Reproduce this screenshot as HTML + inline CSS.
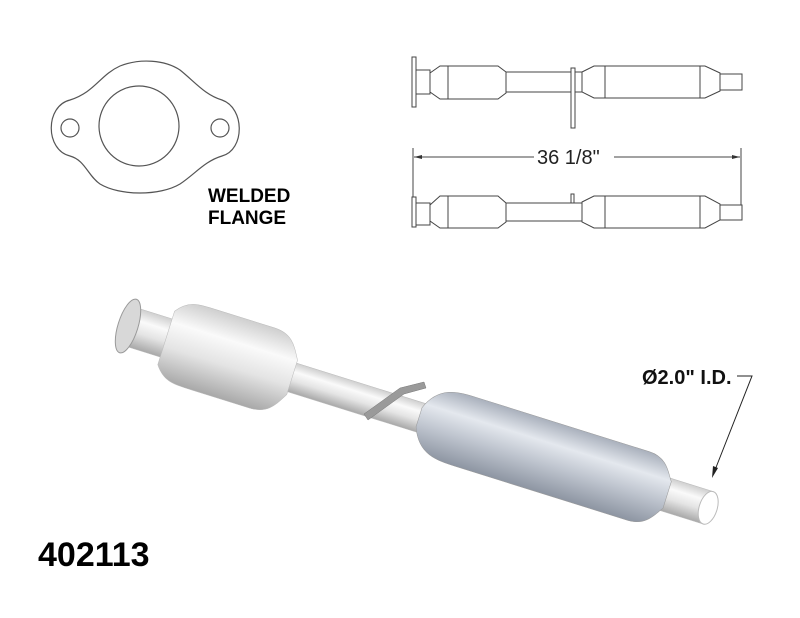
<!DOCTYPE html>
<html><head><style>body{margin:0;background:#fff}svg{display:block}</style></head><body>
<svg width="800" height="618" viewBox="0 0 800 618" xmlns="http://www.w3.org/2000/svg" font-family="Liberation Sans, Arial, sans-serif">
<defs>
<linearGradient id="g1" x1="0" y1="0" x2="0" y2="1"><stop offset="0" stop-color="#cfcfcf"/><stop offset="0.3" stop-color="#fafafa"/><stop offset="0.6" stop-color="#e4e4e4"/><stop offset="1" stop-color="#a8a8a8"/></linearGradient>
<linearGradient id="g2" x1="0" y1="0" x2="0" y2="1"><stop offset="0" stop-color="#a9b0bc"/><stop offset="0.3" stop-color="#e4e8ee"/><stop offset="0.6" stop-color="#bfc5cf"/><stop offset="1" stop-color="#8d95a2"/></linearGradient>
</defs>
<g fill="none" stroke="#555" stroke-width="1.2">
<path d="M70,100 C95,92 100,75 120,66 C140,58 165,60 180,70 C195,82 205,95 222,100 C245,108 245,150 222,156 C205,161 195,174 180,184 C160,196 120,196 100,184 C88,176 85,160 70,156 C45,150 45,106 70,100 Z"/>
<circle cx="139" cy="126" r="40"/>
<circle cx="70" cy="128" r="9"/>
<circle cx="220" cy="128" r="9"/>
</g>
<text x="208" y="202" font-size="19" font-weight="bold">WELDED</text>
<text x="208" y="224" font-size="19" font-weight="bold">FLANGE</text>
<g fill="#fff" stroke="#444" stroke-width="1">
<rect x="412" y="57" width="4" height="50"/>
<rect x="416" y="70" width="14" height="24"/>
<path d="M430,73 L440,66 L498,66 L506,72 L506,93 L498,99 L440,99 L430,92 Z"/>
<rect x="506" y="72" width="76" height="20"/>
<path d="M582,72 L594,66 L705,66 L720,73 L720,91 L705,98 L594,98 L582,92 Z"/>
<rect x="720" y="74" width="22" height="16"/>
<rect x="571" y="68" width="4" height="60"/>
<line x1="448" y1="66" x2="448" y2="99"/><line x1="605" y1="66" x2="605" y2="98"/><line x1="700" y1="66" x2="700" y2="98"/>
</g>
<g stroke="#444" stroke-width="1">
<line x1="413" y1="148" x2="413" y2="205"/><line x1="741" y1="148" x2="741" y2="205"/>
<line x1="414" y1="157" x2="534" y2="157"/><line x1="614" y1="157" x2="740" y2="157"/>
</g>
<path d="M414,157 L422,155 L422,159 Z M740,157 L732,155 L732,159 Z" fill="#333"/>
<text x="537" y="164" font-size="20" fill="#222">36 1/8"</text>
<g fill="#fff" stroke="#444" stroke-width="1">
<rect x="412" y="197" width="4" height="30"/>
<rect x="416" y="203" width="14" height="22"/>
<path d="M430,205 L440,196 L498,196 L506,203 L506,222 L498,228 L440,228 L430,221 Z"/>
<rect x="506" y="203" width="76" height="18"/>
<path d="M582,202 L594,196 L705,196 L720,204 L720,220 L705,228 L594,228 L582,222 Z"/>
<rect x="720" y="205" width="22" height="15"/>
<rect x="571" y="194" width="3" height="9"/>
<line x1="448" y1="196" x2="448" y2="228"/><line x1="605" y1="196" x2="605" y2="228"/><line x1="700" y1="196" x2="700" y2="228"/>
</g>
<g transform="translate(128,326) rotate(17.4)">
<rect x="150" y="-15" width="300" height="30" fill="url(#g1)" stroke="#bbb" stroke-width="0.5"/>
<rect x="0" y="-20" width="45" height="40" fill="url(#g1)" stroke="#bbb" stroke-width="0.5"/>
<path d="M40,-28 C50,-42 60,-42 80,-42 L140,-42 C160,-42 165,-30 172,-18 L172,18 C165,30 160,42 140,42 L80,42 C60,42 50,42 40,28 Z" fill="url(#g1)" stroke="#bbb" stroke-width="0.5"/>
<rect x="550" y="-17" width="58" height="34" fill="url(#g1)" stroke="#bbb" stroke-width="0.5"/>
<ellipse cx="608" cy="0" rx="9" ry="17" fill="#fff" stroke="#bbb"/>
<path d="M305,-10 C315,-36 335,-36 355,-36 L535,-36 C555,-36 560,-20 565,-14 L565,14 C560,20 555,36 535,36 L355,36 C335,36 315,36 305,10 Z" fill="url(#g2)" stroke="#999" stroke-width="0.5"/>
<ellipse cx="0" cy="0" rx="10" ry="28" fill="#d8d8d8" stroke="#999"/>
</g>
<path d="M364,414 L400,388 L424,382 L426,388 L404,394 L368,420 Z" fill="#9a9a9a" stroke="#777" stroke-width="0.5"/>
<text x="642" y="384" font-size="20" font-weight="bold" fill="#111">Ø2.0" I.D.</text>
<polyline points="737,376 752,376 715,470" fill="none" stroke="#222" stroke-width="1"/>
<path d="M712,478 L713,466 L718,468 Z" fill="#222"/>
<text x="38" y="566" font-size="34" font-weight="bold" fill="#000">402113</text>
</svg>
</body></html>
